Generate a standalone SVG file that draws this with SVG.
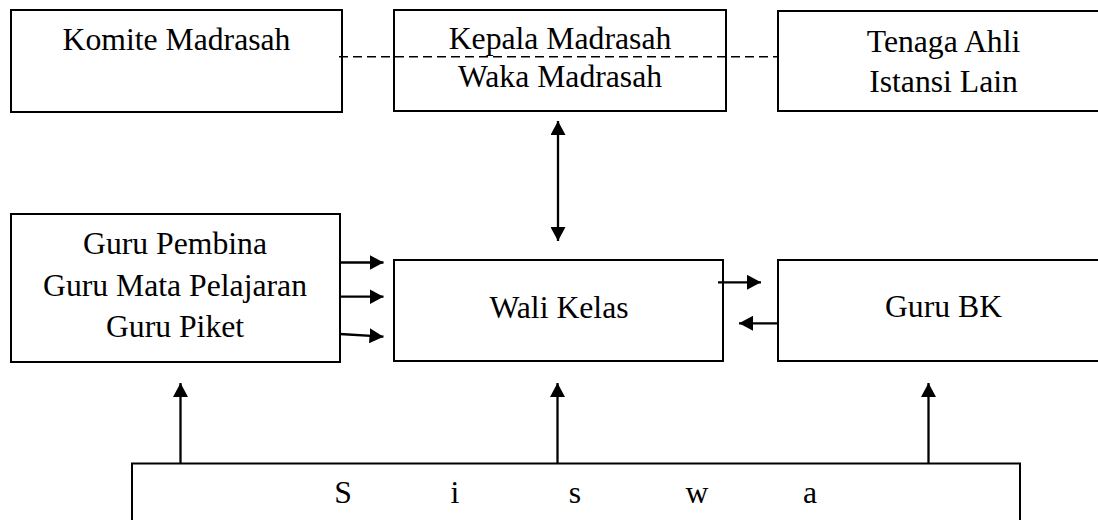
<svg xmlns="http://www.w3.org/2000/svg" width="1098" height="520" viewBox="0 0 1098 520">
<style>
.box{fill:#fff;stroke:#000;stroke-width:2}
.t{font-family:"Liberation Serif","Times New Roman",serif;font-size:31.7px;fill:#000;text-anchor:middle}
.c{stroke:#000;stroke-width:2.3;fill:none}
.d{stroke:#000;stroke-width:1.6;fill:none;stroke-dasharray:9 5}
</style>
<defs>
<marker id="ah" viewBox="0 0 14 15" refX="14" refY="7.5" markerWidth="14" markerHeight="15" markerUnits="userSpaceOnUse" orient="auto-start-reverse">
<path d="M0,0 L14,7.5 L0,15 z" fill="#000"/>
</marker>
</defs>
<rect x="0" y="0" width="1098" height="520" fill="#fff"/>
<g id="komite">
<rect class="box" x="11" y="10" width="331" height="102"/>
<text class="t" x="176.5" y="50">Komite Madrasah</text>
</g>
<g id="kepala">
<rect class="box" x="394" y="10" width="332" height="101"/>
<text class="t" x="560" y="49">Kepala Madrasah</text>
<text class="t" x="560" y="87">Waka Madrasah</text>
</g>
<g id="tenaga">
<rect class="box" x="778" y="11" width="331" height="100"/>
<text class="t" x="943.5" y="52">Tenaga Ahli</text>
<text class="t" x="943.5" y="92">Istansi Lain</text>
</g>
<g id="guru">
<rect class="box" x="11" y="214" width="329" height="148"/>
<text class="t" x="175" y="254">Guru Pembina</text>
<text class="t" x="175" y="296">Guru Mata Pelajaran</text>
<text class="t" x="175" y="337">Guru Piket</text>
</g>
<g id="wali">
<rect class="box" x="394" y="260" width="329" height="101"/>
<text class="t" x="559" y="318">Wali Kelas</text>
</g>
<g id="bk">
<rect class="box" x="778" y="260" width="331" height="101"/>
<text class="t" x="943.5" y="317">Guru BK</text>
</g>
<g id="siswa">
<rect class="box" x="132" y="463.5" width="888" height="80"/>
<text class="t" x="343 455 575 697 810" y="503">Siswa</text>
</g>
<g id="connectors">
<line class="d" x1="339" y1="56.7" x2="778" y2="56.7"/>
<line class="c" x1="558" y1="121" x2="558" y2="241" marker-start="url(#ah)" marker-end="url(#ah)"/>
<line class="c" x1="340" y1="262.5" x2="383.5" y2="262.5" marker-end="url(#ah)"/>
<line class="c" x1="340" y1="296.7" x2="383.5" y2="296.7" marker-end="url(#ah)"/>
<line class="c" x1="340" y1="334" x2="383.5" y2="336.7" marker-end="url(#ah)"/>
<line class="c" x1="718" y1="282.3" x2="761" y2="282.3" marker-end="url(#ah)"/>
<line class="c" x1="778" y1="323.3" x2="739" y2="323.3" marker-end="url(#ah)"/>
<line class="c" x1="180.5" y1="463.5" x2="180.5" y2="383" marker-end="url(#ah)"/>
<line class="c" x1="557.5" y1="463.5" x2="557.5" y2="383" marker-end="url(#ah)"/>
<line class="c" x1="928.5" y1="463.5" x2="928.5" y2="383" marker-end="url(#ah)"/>
</g>
</svg>
